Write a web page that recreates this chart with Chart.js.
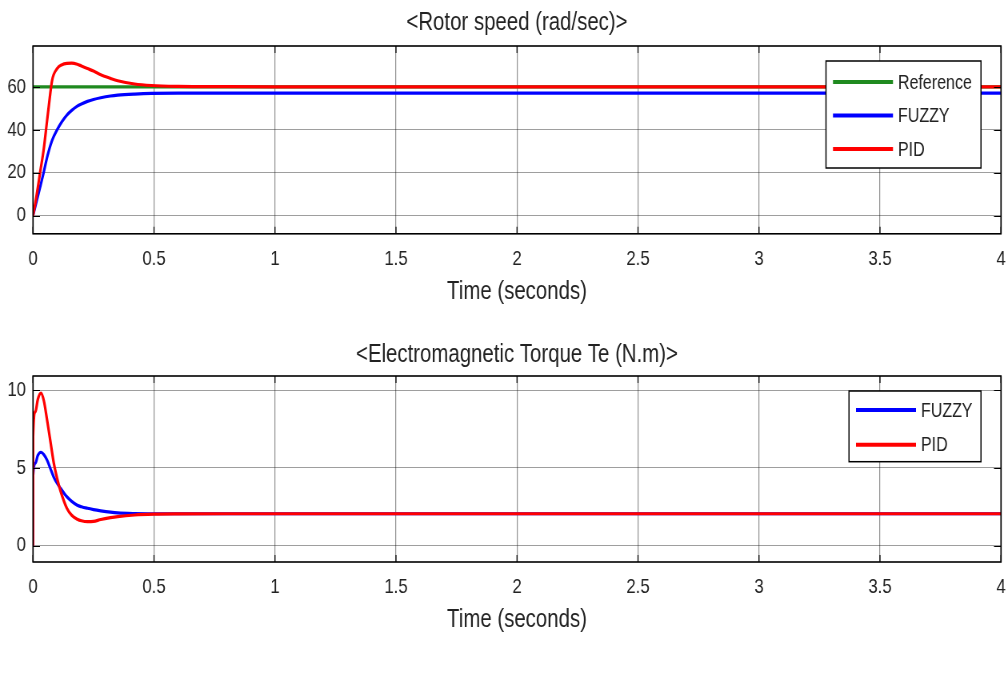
<!DOCTYPE html>
<html>
<head>
<meta charset="utf-8">
<script src="https://cdn.jsdelivr.net/npm/chart.js@4"></script>
<style>
  html, body { margin: 0; padding: 0; background: #fff; }
  #wrap { position: relative; width: 1008px; height: 674px; overflow: hidden; }
  .box { position: absolute; left: 0; width: 1260px; transform: scaleX(0.8); transform-origin: 0 0; }
</style>
</head>
<body>
<div id="wrap">
  <div class="box" style="top:0;height:310px"><canvas id="c1"></canvas></div>
  <div class="box" style="top:310px;height:364px"><canvas id="c2"></canvas></div>
</div>
<script>
// ---------------- data ----------------
const speedTitle = '<Rotor speed (rad/sec)>';
const torqueTitle = '<Electromagnetic Torque Te (N.m)>';
const xLabel = 'Time (seconds)';
const xTicks = [0, 0.5, 1, 1.5, 2, 2.5, 3, 3.5, 4];
const speedYTicks = [0, 20, 40, 60];
const torqueYTicks = [0, 5, 10];

const refTime = [0, 4];
const refSpeed = [60, 60];

const speedTime = [0, 0.01, 0.02, 0.03, 0.044, 0.058, 0.065, 0.079, 0.1, 0.12, 0.14, 0.16, 0.183, 0.2, 0.225, 0.25, 0.28, 0.32, 0.35, 0.42, 0.49, 0.6, 0.8, 1, 1.5, 2, 2.5, 3, 3.5, 4];
const fuzzySpeed = [0, 4.5, 9, 13.5, 20, 27, 30, 35, 40, 43.8, 46.8, 49, 51, 52, 53.2, 54.1, 54.9, 55.7, 56.1, 56.6, 56.9, 57, 57, 57, 57, 57, 57, 57, 57, 57];
const pidSpeed = [0, 6, 13, 20.5, 30.5, 44, 50.7, 63, 68.5, 70.3, 70.9, 71, 70.5, 69.7, 68.5, 67.3, 65.6, 63.9, 62.8, 61.3, 60.6, 60.2, 60.05, 60, 60, 60, 60, 60, 60, 60];

const torqueTime = [0, 0.0005, 0.01, 0.02, 0.033, 0.045, 0.058, 0.072, 0.086, 0.1, 0.114, 0.14, 0.16, 0.183, 0.2, 0.225, 0.25, 0.28, 0.32, 0.35, 0.42, 0.5, 0.6, 0.8, 1, 1.5, 2, 2.5, 3, 3.5, 4];
const fuzzyTorque = [0, 4.5, 5.3, 5.8, 6.0, 5.85, 5.5, 4.95, 4.4, 4.0, 3.68, 3.14, 2.85, 2.6, 2.5, 2.4, 2.32, 2.24, 2.15, 2.1, 2.06, 2.05, 2.05, 2.05, 2.05, 2.05, 2.05, 2.05, 2.05, 2.05, 2.05];
const pidTorque = [0, 7.0, 8.6, 9.4, 9.8, 9.3, 8.1, 6.7, 5.3, 4.3, 3.5, 2.4, 1.95, 1.7, 1.6, 1.54, 1.56, 1.68, 1.8, 1.87, 1.97, 2.02, 2.04, 2.05, 2.05, 2.05, 2.05, 2.05, 2.05, 2.05, 2.05];

// ---------------- helpers ----------------
const SX = 0.8; // horizontal compression applied to the canvas box (condensed look)
const FONT = "'Liberation Sans', Arial, sans-serif";
const zip = (xs, ys) => xs.map((x, i) => ({ x: x, y: ys[i] }));

// title centred over the plot area (MATLAB/Simulink style)
const areaTitlePlugin = {
  id: 'areaTitle',
  afterDraw(chart, args, opts) {
    const { ctx, chartArea: a } = chart;
    ctx.save();
    ctx.font = opts.size + 'px ' + FONT;
    ctx.fillStyle = '#222';
    ctx.textAlign = 'center';
    ctx.textBaseline = 'alphabetic';
    ctx.fillText(opts.text, (a.left + a.right) / 2, opts.baseline);
    ctx.restore();
  }
};

const framePlugin = {
  id: 'frame',
  afterDatasetsDraw(chart) {
    const { ctx, chartArea: a, scales } = chart;
    ctx.save();
    ctx.strokeStyle = '#000';
    const tlx = 7 / SX, tly = 7;
    ctx.beginPath();
    scales.x.ticks.forEach(t => {
      const px = scales.x.getPixelForValue(t.value);
      ctx.moveTo(px, a.bottom); ctx.lineTo(px, a.bottom - tly);
      ctx.moveTo(px, a.top); ctx.lineTo(px, a.top + tly);
    });
    ctx.lineWidth = 1.25;
    ctx.stroke();
    ctx.beginPath();
    scales.y.ticks.forEach(t => {
      const py = Math.round(scales.y.getPixelForValue(t.value)) + 0.5;
      ctx.moveTo(a.left, py); ctx.lineTo(a.left + tlx, py);
      ctx.moveTo(a.right, py); ctx.lineTo(a.right - tlx, py);
    });
    ctx.lineWidth = 1;
    ctx.stroke();
    ctx.lineWidth = 1.6;
    ctx.strokeRect(a.left, a.top, a.right - a.left, a.bottom - a.top);
    ctx.restore();
  }
};

const boxLegendPlugin = {
  id: 'boxLegend',
  afterDraw(chart, args, opts) {
    const { ctx, chartArea: a } = chart;
    const w = opts.width / SX;
    const x0 = a.right - opts.right / SX - w;
    const y0 = a.top + opts.top;
    const n = chart.data.datasets.length;
    const h = opts.firstRow * 2 + opts.rowGap * (n - 1) - 2;
    ctx.save();
    ctx.fillStyle = '#fff';
    ctx.fillRect(x0, y0, w, h);
    ctx.strokeStyle = '#000';
    ctx.lineWidth = 1.5;
    ctx.strokeRect(x0, y0, w, h);
    ctx.font = opts.fontSize + 'px ' + FONT;
    ctx.textBaseline = 'middle';
    ctx.textAlign = 'left';
    chart.data.datasets.forEach((ds, i) => {
      const y = y0 + opts.firstRow + i * opts.rowGap;
      ctx.strokeStyle = ds.borderColor;
      ctx.lineWidth = 4;
      ctx.beginPath();
      ctx.moveTo(x0 + 7 / SX, y); ctx.lineTo(x0 + 67 / SX, y);
      ctx.stroke();
      ctx.fillStyle = '#222';
      ctx.fillText(ds.label, x0 + 72 / SX, y + 1);
    });
    ctx.restore();
  }
};

function makeChart(id, title, datasets, yMin, yMax, yTicks, legendOpts, pad) {
  return new Chart(document.getElementById(id), {
    type: 'line',
    data: { datasets: datasets },
    plugins: [framePlugin, boxLegendPlugin, areaTitlePlugin],
    options: {
      responsive: true,
      maintainAspectRatio: false,
      animation: false,
      layout: { padding: { left: 0, right: 7 / SX, top: pad.top, bottom: pad.bottom } },
      elements: { point: { radius: 0 }, line: { borderWidth: 3.2, tension: 0.4, cubicInterpolationMode: 'monotone' } },
      plugins: {
        legend: { display: false },
        tooltip: { enabled: false },
        title: { display: false },
        areaTitle: { text: title, size: 25.5, baseline: pad.titleBaseline },
        boxLegend: legendOpts
      },
      scales: {
        x: {
          type: 'linear', min: 0, max: 4,
          afterBuildTicks: s => { s.ticks = xTicks.map(v => ({ value: v })); },
          afterFit: s => { s.height = 73; s.paddingLeft = 0; s.paddingRight = 0; },
          ticks: { color: '#222', padding: 13, maxRotation: 0, font: { family: FONT, size: 21, lineHeight: 1.2 },
                   callback: v => String(v) },
          grid: { color: 'rgba(0,0,0,0.42)', lineWidth: 1.25, drawTicks: false },
          border: { display: false },
          title: { display: true, text: xLabel, color: '#222', font: { family: FONT, size: 25.5, lineHeight: 1.2 }, padding: { top: 7, bottom: 0 } }
        },
        y: {
          type: 'linear', min: yMin, max: yMax,
          afterBuildTicks: s => { s.ticks = yTicks.map(v => ({ value: v })); },
          afterFit: s => { s.width = 33 / SX; },
          ticks: { color: '#222', padding: 7 / SX, font: { family: FONT, size: 21, lineHeight: 1.2 }, callback: v => String(v) },
          grid: { color: 'rgba(0,0,0,0.38)', lineWidth: 1, drawTicks: false },
          border: { display: false }
        }
      }
    }
  });
}

makeChart('c1', speedTitle, [
  { label: 'Reference', data: zip(refTime, refSpeed), borderColor: '#1f8a1f', order: 3 },
  { label: 'FUZZY', data: zip(speedTime, fuzzySpeed), borderColor: '#0000ff', order: 2 },
  { label: 'PID', data: zip(speedTime, pidSpeed), borderColor: '#ff0000', order: 1 }
], -8.5, 79, speedYTicks,
  { right: 20, top: 15, width: 155, firstRow: 21, rowGap: 33.5, fontSize: 20 },
  { top: 46, titleBaseline: 30, bottom: 3.2 });

makeChart('c2', torqueTitle, [
  { label: 'FUZZY', data: zip(torqueTime, fuzzyTorque), borderColor: '#0000ff', order: 2 },
  { label: 'PID', data: zip(torqueTime, pidTorque), borderColor: '#ff0000', order: 1 }
], -1.05, 10.9, torqueYTicks,
  { right: 20, top: 15, width: 132, firstRow: 19, rowGap: 34.7, fontSize: 20 },
  { top: 66, titleBaseline: 51.5, bottom: 39 });
</script>
</body>
</html>
